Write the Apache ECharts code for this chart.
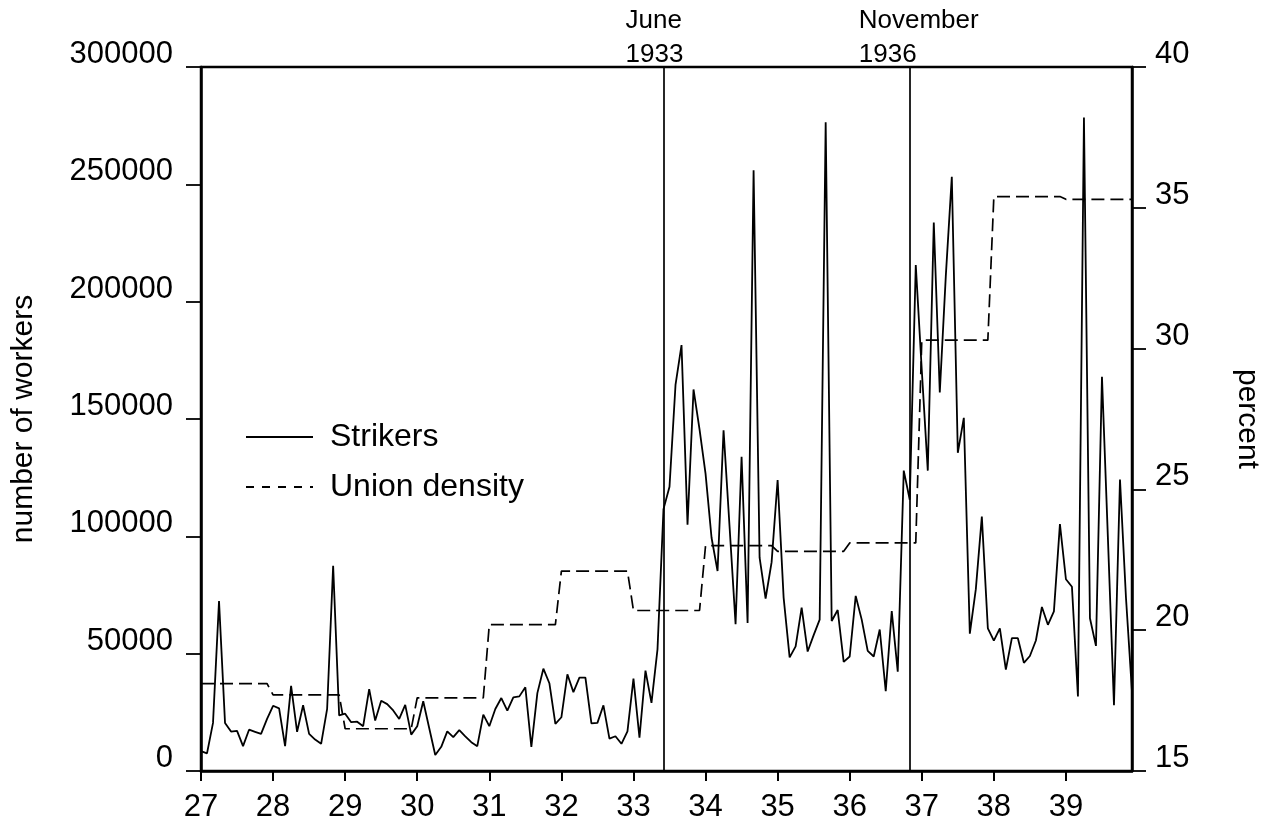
<!DOCTYPE html>
<html>
<head>
<meta charset="utf-8">
<script src="https://cdn.jsdelivr.net/npm/echarts@6/dist/echarts.min.js"></script>
<style>
html,body{margin:0;padding:0;background:#fff;}
#c{width:1270px;height:827px;}
</style>
</head>
<body>
<div id="c"></div>
<script>
// Year tick labels (1927-1939), monthly observations
const yearLabels = ['27','28','29','30','31','32','33','34','35','36','37','38','39'];
const monthLabels = ['01','02','03','04','05','06','07','08','09','10','11','12'];

// Strikers (number of workers), one row per year, Jan..Dec
const strikers = [
  8500, 7500, 20500, 72400, 20500, 16800, 17100, 10600, 17600, 16700, 15800, 22200,
  27800, 26700, 10600, 36300, 16700, 28000, 15800, 13400, 11600, 26500, 87400, 23700,
  24400, 20800, 21000, 19100, 34900, 21500, 29900, 28500, 25800, 22200, 28200, 15500,
  19100, 29700, 18200, 6800, 10300, 16900, 14400, 17400, 14800, 12300, 10600, 24000,
  19100, 26400, 31100, 25700, 31400, 31800, 35700, 10300, 33200, 43600, 37400, 20100,
  22900, 41200, 33600, 39800, 39800, 20300, 20500, 28000, 13800, 14800, 11600, 16900,
  39400, 14200, 42800, 29000, 51800, 111600, 121100, 164500, 181500, 105000, 162600, 145600,
  126700, 99400, 85200, 145200, 104100, 62600, 133900, 63100, 256000, 90900, 73500, 89000,
  124000, 73900, 48400, 53100, 69600, 50900, 57900, 64500, 276500, 63900, 68600, 46500,
  48800, 74600, 64500, 51200, 48800, 60300, 34000, 68100, 42300, 128000, 115600, 215600,
  170900, 128000, 233700, 161300, 210900, 253200, 135600, 150500, 58500, 77500, 108400, 60800,
  55600, 60800, 43200, 56600, 56600, 46100, 49000, 55600, 69900, 62300, 68000, 105200,
  81700, 78500, 31800, 278500, 65100, 53300, 168000, 98500, 28000, 124200, 73700, 33700
];

// Union density (percent), one row per year, Jan..Dec
const unionDensity = [
  18.1, 18.1, 18.1, 18.1, 18.1, 18.1, 18.1, 18.1, 18.1, 18.1, 18.1, 18.1,
  17.7, 17.7, 17.7, 17.7, 17.7, 17.7, 17.7, 17.7, 17.7, 17.7, 17.7, 17.7,
  16.5, 16.5, 16.5, 16.5, 16.5, 16.5, 16.5, 16.5, 16.5, 16.5, 16.5, 16.5,
  17.6, 17.6, 17.6, 17.6, 17.6, 17.6, 17.6, 17.6, 17.6, 17.6, 17.6, 17.6,
  20.2, 20.2, 20.2, 20.2, 20.2, 20.2, 20.2, 20.2, 20.2, 20.2, 20.2, 20.2,
  22.1, 22.1, 22.1, 22.1, 22.1, 22.1, 22.1, 22.1, 22.1, 22.1, 22.1, 22.1,
  20.7, 20.7, 20.7, 20.7, 20.7, 20.7, 20.7, 20.7, 20.7, 20.7, 20.7, 20.7,
  23.0, 23.0, 23.0, 23.0, 23.0, 23.0, 23.0, 23.0, 23.0, 23.0, 23.0, 23.0,
  22.8, 22.8, 22.8, 22.8, 22.8, 22.8, 22.8, 22.8, 22.8, 22.8, 22.8, 22.8,
  23.1, 23.1, 23.1, 23.1, 23.1, 23.1, 23.1, 23.1, 23.1, 23.1, 23.1, 23.1,
  30.3, 30.3, 30.3, 30.3, 30.3, 30.3, 30.3, 30.3, 30.3, 30.3, 30.3, 30.3,
  35.4, 35.4, 35.4, 35.4, 35.4, 35.4, 35.4, 35.4, 35.4, 35.4, 35.4, 35.4,
  35.3, 35.3, 35.3, 35.3, 35.3, 35.3, 35.3, 35.3, 35.3, 35.3, 35.3, 35.3
];

// Event markers
const eventMonths = ['33-06', '36-11'];
const eventLabels = ['June\n1933', 'November\n1936'];
const eventLabelOffsets = [-38, -51];

// Left / right axis tick settings
const leftTicks = { min: 0, max: 300000, interval: 50000 };
const rightTicks = { min: 15, max: 40, interval: 5 };

const categories = [];
yearLabels.forEach(y => monthLabels.forEach(m => categories.push(y + '-' + m)));

const FONT = '"Liberation Sans", Arial, Helvetica, sans-serif';
const chart = echarts.init(document.getElementById('c'), null, { renderer: 'canvas' });

const axisLineStyle = { color: '#000', width: 2.5 };

chart.setOption({
  animation: false,
  backgroundColor: '#fff',
  grid: { left: 201, right: 129, top: 67, bottom: 56, show: true, borderColor: '#000', borderWidth: 2.5, backgroundColor: 'transparent' },
  legend: {
    orient: 'vertical',
    left: 240,
    top: 416,
    itemWidth: 67,
    itemHeight: 14,
    itemGap: 18,
    selectedMode: false,
    itemStyle: { opacity: 0 },
    textStyle: { fontFamily: FONT, fontSize: 32, color: '#000', lineHeight: 32, padding: [0, 0, 0, 12] },
    data: [
      { name: 'Strikers', itemStyle: { opacity: 0 } },
      { name: 'Union density', itemStyle: { opacity: 0 }, lineStyle: { type: [8, 8] } }
    ]
  },
  xAxis: {
    type: 'category',
    data: categories,
    boundaryGap: false,
    axisLine: { show: true, onZero: false, lineStyle: axisLineStyle },
    axisTick: { show: true, interval: 11, length: 10, lineStyle: { color: '#000', width: 2 } },
    axisLabel: { interval: 11, formatter: v => v.split('-')[0], fontFamily: FONT, fontSize: 31, color: '#000', margin: 21 },
    splitLine: { show: false }
  },
  yAxis: [
    {
      type: 'value', position: 'left',
      min: leftTicks.min, max: leftTicks.max, interval: leftTicks.interval,
      name: 'number of workers', nameLocation: 'middle', nameGap: 162,
      nameTextStyle: { fontFamily: FONT, fontSize: 30, color: '#000' },
      axisLine: { show: true, lineStyle: axisLineStyle },
      axisTick: { show: true, length: 15, lineStyle: { color: '#000', width: 1.8 } },
      axisLabel: { formatter: v => String(v), fontFamily: FONT, fontSize: 31, color: '#000', margin: 28, verticalAlign: 'bottom', lineHeight: 25 },
      splitLine: { show: false }
    },
    {
      type: 'value', position: 'right',
      min: rightTicks.min, max: rightTicks.max, interval: rightTicks.interval,
      name: 'percent', nameLocation: 'middle', nameGap: 100, nameRotate: -90,
      nameTextStyle: { fontFamily: FONT, fontSize: 30, color: '#000' },
      axisLine: { show: true, lineStyle: axisLineStyle },
      axisTick: { show: true, length: 14, lineStyle: { color: '#000', width: 1.8 } },
      axisLabel: { formatter: v => String(v), fontFamily: FONT, fontSize: 31, color: '#000', margin: 23, verticalAlign: 'bottom', lineHeight: 25 },
      splitLine: { show: false }
    }
  ],
  series: [
    {
      name: 'Strikers', type: 'line', yAxisIndex: 0, data: strikers,
      symbol: 'none', lineStyle: { color: '#000', width: 1.8 }, itemStyle: { color: '#000' },
      markLine: {
        silent: true, symbol: ['none', 'none'], label: { show: false },
        lineStyle: { color: '#000', width: 1.7, type: 'solid' },
        data: eventMonths.map(m => ({ xAxis: m }))
      },
      z: 3
    },
    {
      name: 'Union density', type: 'line', yAxisIndex: 1, data: unionDensity,
      symbol: 'none', lineStyle: { color: '#000', width: 1.7, type: [13, 6] }, itemStyle: { color: '#000' },
      z: 2
    }
  ]
});

const eventPx = eventMonths.map(m => chart.convertToPixel({ xAxisIndex: 0 }, m));
chart.setOption({
  graphic: eventPx.map((px, i) => ({
    type: 'text',
    left: px + eventLabelOffsets[i],
    top: 4,
    style: { text: eventLabels[i], font: '26px ' + FONT, lineHeight: 34, fill: '#000' }
  }))
});
</script>
</body>
</html>
